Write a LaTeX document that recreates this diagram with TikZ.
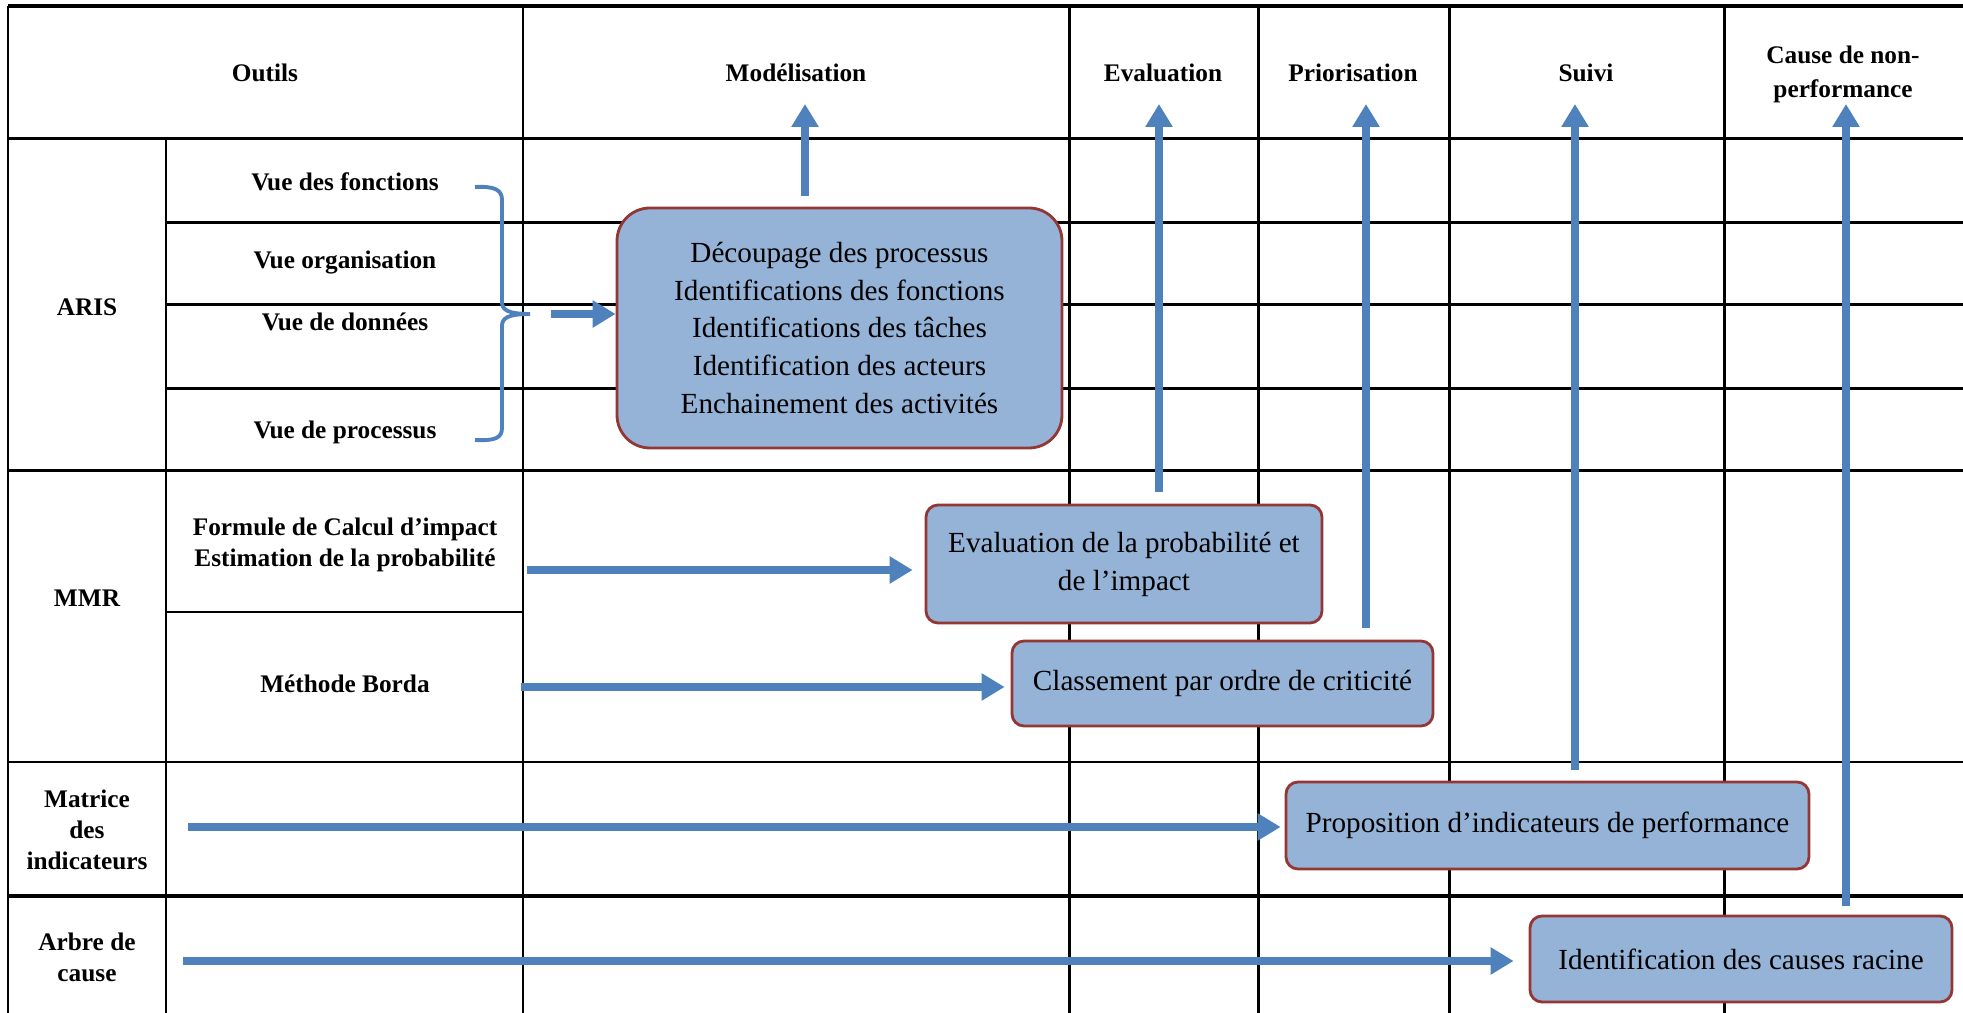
\documentclass[tikz,border=0pt]{standalone}
\usepackage{fontspec}
\setmainfont{Liberation Serif}
\usetikzlibrary{arrows.meta}
\definecolor{flowblue}{HTML}{4F81BD}
\definecolor{boxfill}{HTML}{95B3D7}
\definecolor{boxline}{HTML}{943634}
\tikzset{
  rule/.style={line width=0.85pt},
  thickrule/.style={line width=1.4pt},
  hd/.style={font=\fontsize{7.2}{8.8}\selectfont\bfseries, align=center, inner sep=0pt},
  actbox/.style={draw=boxline, fill=boxfill, line width=0.8pt, rounded corners=1.2mm,
    align=center, inner sep=0pt, font=\fontsize{8.3}{10.8}\selectfont},
  flow/.style={draw=flowblue, line width=2.3pt, -{Triangle[length=2.3mm,width=2.6mm]}},
  curly/.style={draw=flowblue, line width=1.1pt},
}
\begin{document}
\begin{tikzpicture}[x=0.1mm,y=-0.1mm]
\useasboundingbox (0,0) rectangle (1963,1013);

% grille du tableau
\draw[thickrule] (8,6) -- (1963,6);
\draw[rule] (8,6) -- (8,1013);
\foreach \xx in {523,1069,1258,1449,1724} \draw[rule] (\xx,6) -- (\xx,1013);
\draw[rule] (166,139) -- (166,1013);
\foreach \yy in {139,471,762} \draw[rule] (8,\yy) -- (1963,\yy);
\draw[thickrule] (8,896) -- (1963,896);
\foreach \yy in {223,305,389} \draw[rule] (166,\yy) -- (1963,\yy);
\draw[rule] (166,612) -- (523,612);

% en-tetes
\node[hd] (outils) at (265,73) {Outils};
\node[hd] (model) at (796,73) {Modélisation};
\node[hd] (evalh) at (1163,73) {Evaluation};
\node[hd] (prio) at (1353,73) {Priorisation};
\node[hd] (suivi) at (1586,73) {Suivi};
\node[hd] (causeh) at (1843,74) {Cause de non-\\[0.3mm]performance};

% outils
\node[hd] (aris) at (87,307) {ARIS};
\node[hd] (vfonc) at (345,182) {Vue des fonctions};
\node[hd] (vorg) at (345,263) {Vue organisation};
\node[hd] (vdon) at (345,322) {Vue de données};
\node[hd] (vproc) at (345,432) {Vue de processus};
\node[hd] (mmr) at (87,598) {MMR};
\node[hd] (formule) at (345,545) {Formule de Calcul d’impact\\Estimation de la probabilité};
\node[hd] (borda) at (345,684) {Méthode Borda};
\node[hd] (matrice) at (87,830) {Matrice\\des\\indicateurs};
\node[hd] (arbre) at (87,957) {Arbre de\\cause};

% resultats
\node[actbox, minimum width=44.5mm, minimum height=24mm, rounded corners=3.3mm] (decoup) at (839.5,328)
  {Découpage des processus\\Identifications des fonctions\\Identifications des tâches\\Identification des acteurs\\Enchainement des activités};
\node[actbox, minimum width=39.6mm, minimum height=11.8mm] (evalbox) at (1124,564) {Evaluation de la probabilité et\\de l’impact};
\node[actbox, minimum width=42.1mm, minimum height=8.5mm] (classbox) at (1222.5,683.5) {Classement par ordre de criticité};
\node[actbox, minimum width=52.3mm, minimum height=8.7mm] (propbox) at (1547.5,825.5) {Proposition d’indicateurs de performance};
\node[actbox, minimum width=42.2mm, minimum height=8.6mm] (causebox) at (1741,959) {Identification des causes racine};

% accolade des vues ARIS
\coordinate (bracetip) at (530,314);
\draw[curly] (475,187) .. controls (495,186) and (502,190) .. (502,200) -- (502,302)
  .. controls (502,310) and (508,314) .. (bracetip)
  .. controls (508,314) and (502,318) .. (502,326) -- (502,428)
  .. controls (502,438) and (495,441) .. (475,440);

% fleches horizontales
\coordinate (arisStart) at (551,314);
\draw[flow] (arisStart) -- (arisStart -| decoup.west);
\coordinate (formStart) at (527,570);
\draw[flow, shorten >=1.2mm] (formStart) -- (formStart -| evalbox.west);
\coordinate (bordaStart) at (521,687);
\draw[flow, shorten >=0.6mm] (bordaStart) -- (bordaStart -| classbox.west);
\coordinate (matStart) at (188,827);
\draw[flow, shorten >=0.4mm] (matStart) -- (matStart -| propbox.west);
\coordinate (arbreStart) at (183,961);
\draw[flow, shorten >=1.5mm] (arbreStart) -- (arbreStart -| causebox.west);

% fleches vers les colonnes
\coordinate (modTop) at (805,104);
\draw[flow, shorten <=1.1mm] (modTop |- decoup.north) -- (modTop);
\coordinate (evalTop) at (1159,104);
\draw[flow, shorten <=1.2mm] (evalTop |- evalbox.north) -- (evalTop);
\coordinate (prioTop) at (1366,104);
\draw[flow, shorten <=1.2mm] (prioTop |- classbox.north) -- (prioTop);
\coordinate (suiviTop) at (1575,104);
\draw[flow, shorten <=1.1mm] (suiviTop |- propbox.north) -- (suiviTop);
\coordinate (causeTop) at (1846,104);
\draw[flow, shorten <=0.9mm] (causeTop |- causebox.north) -- (causeTop);
\end{tikzpicture}
\end{document}
